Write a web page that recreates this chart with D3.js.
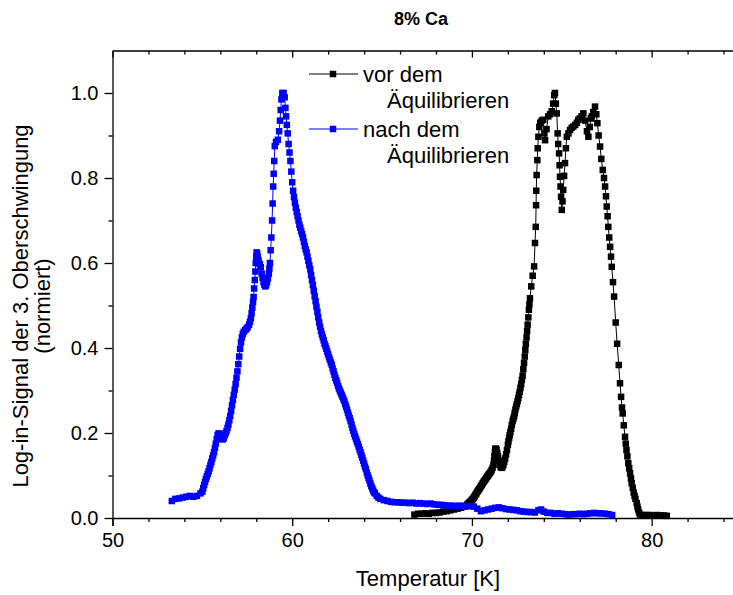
<!DOCTYPE html>
<html>
<head>
<meta charset="utf-8">
<script src="https://cdn.jsdelivr.net/npm/d3@7"></script>
<style>
  body { margin: 0; background: #fff; }
  svg { display: block; font-family: "Liberation Sans", Arial, sans-serif; }
</style>
</head>
<body>
<div id="canvas"></div>
<script>
"use strict"

/* Data */
// blue series: nach dem Aequilibrieren
let blueT = [53.3, 53.5, 53.7, 53.9, 54.1, 54.3, 54.5, 54.7, 54.9, 55.0, 55.05, 55.1, 55.15, 55.2, 55.25, 55.3, 55.35, 55.4, 55.45, 55.5, 55.55, 55.6, 55.65, 55.7, 55.75, 55.8, 55.85, 55.9, 55.95, 56.0, 56.05, 56.1, 56.15, 56.2, 56.25, 56.3, 56.35, 56.4, 56.45, 56.5, 56.55, 56.6, 56.65, 56.7, 56.75, 56.8, 56.85, 56.9, 56.95, 57.0, 57.05, 57.1, 57.15, 57.2, 57.25, 57.3, 57.38, 57.45, 57.52, 57.6, 57.65, 57.7, 57.74, 57.78, 57.82, 57.85, 57.88, 57.92, 57.95, 57.97, 58.0, 58.02, 58.05, 58.08, 58.12, 58.15, 58.2, 58.25, 58.3, 58.35, 58.4, 58.45, 58.5, 58.55, 58.6, 58.65, 58.7, 58.73, 58.76, 58.8, 58.84, 58.88, 58.91, 58.94, 58.97, 59.0, 59.03, 59.1, 59.2, 59.27, 59.32, 59.36, 59.4, 59.45, 59.52, 59.58, 59.62, 59.66, 59.7, 59.75, 59.8, 59.85, 59.9, 59.95, 60.0, 60.05, 60.1, 60.15, 60.2, 60.25, 60.3, 60.35, 60.4, 60.45, 60.5, 60.55, 60.6, 60.65, 60.7, 60.75, 60.8, 60.85, 60.9, 60.95, 61.0, 61.05, 61.1, 61.15, 61.2, 61.25, 61.3, 61.35, 61.4, 61.45, 61.5, 61.55, 61.6, 61.65, 61.7, 61.75, 61.8, 61.85, 61.9, 61.95, 62.0, 62.05, 62.1, 62.15, 62.2, 62.25, 62.3, 62.35, 62.4, 62.45, 62.5, 62.55, 62.6, 62.65, 62.7, 62.75, 62.8, 62.85, 62.9, 62.95, 63.0, 63.05, 63.1, 63.15, 63.2, 63.25, 63.3, 63.35, 63.4, 63.45, 63.5, 63.55, 63.6, 63.65, 63.7, 63.75, 63.8, 63.85, 63.9, 63.95, 64.0, 64.05, 64.1, 64.15, 64.2, 64.25, 64.3, 64.35, 64.4, 64.45, 64.5, 64.55, 64.6, 64.7, 64.8, 64.9, 65.1, 65.3, 65.5, 65.7, 65.9, 66.1, 66.3, 66.5, 66.7, 66.9, 67.1, 67.3, 67.5, 67.7, 67.9, 68.1, 68.3, 68.5, 68.7, 68.9, 69.1, 69.3, 69.5, 69.7, 69.9, 70.1, 70.3, 70.5, 70.7, 70.9, 71.1, 71.3, 71.5, 71.7, 71.9, 72.1, 72.3, 72.5, 72.7, 72.9, 73.1, 73.3, 73.5, 73.7, 73.85, 74.0, 74.2, 74.4, 74.6, 74.8, 75.0, 75.2, 75.4, 75.6, 75.8, 76.0, 76.2, 76.4, 76.6, 76.8, 77.0, 77.2, 77.4, 77.6, 77.8];
let blueV = [0.040, 0.045, 0.046, 0.048, 0.050, 0.052, 0.050, 0.052, 0.058, 0.062, 0.070, 0.078, 0.085, 0.092, 0.098, 0.104, 0.110, 0.117, 0.125, 0.132, 0.140, 0.147, 0.155, 0.165, 0.175, 0.186, 0.195, 0.199, 0.198, 0.193, 0.190, 0.186, 0.185, 0.189, 0.195, 0.200, 0.205, 0.212, 0.220, 0.230, 0.240, 0.252, 0.265, 0.278, 0.290, 0.302, 0.315, 0.330, 0.345, 0.362, 0.380, 0.398, 0.413, 0.425, 0.433, 0.438, 0.442, 0.445, 0.449, 0.455, 0.462, 0.470, 0.482, 0.495, 0.508, 0.520, 0.540, 0.560, 0.580, 0.600, 0.615, 0.625, 0.622, 0.615, 0.607, 0.600, 0.597, 0.590, 0.575, 0.565, 0.555, 0.549, 0.545, 0.548, 0.555, 0.564, 0.575, 0.587, 0.600, 0.630, 0.660, 0.700, 0.740, 0.780, 0.810, 0.840, 0.875, 0.885, 0.890, 0.910, 0.935, 0.960, 0.985, 1.000, 1.000, 0.990, 0.965, 0.945, 0.925, 0.905, 0.880, 0.860, 0.840, 0.815, 0.790, 0.770, 0.755, 0.742, 0.730, 0.720, 0.710, 0.700, 0.690, 0.683, 0.675, 0.668, 0.660, 0.650, 0.640, 0.632, 0.625, 0.615, 0.605, 0.595, 0.585, 0.572, 0.560, 0.548, 0.535, 0.522, 0.510, 0.497, 0.485, 0.472, 0.460, 0.450, 0.440, 0.432, 0.425, 0.418, 0.410, 0.404, 0.398, 0.391, 0.385, 0.378, 0.372, 0.366, 0.360, 0.352, 0.345, 0.337, 0.330, 0.324, 0.318, 0.311, 0.305, 0.300, 0.295, 0.290, 0.285, 0.280, 0.275, 0.268, 0.262, 0.255, 0.248, 0.241, 0.235, 0.228, 0.220, 0.212, 0.205, 0.198, 0.192, 0.186, 0.180, 0.174, 0.168, 0.161, 0.155, 0.148, 0.142, 0.135, 0.128, 0.121, 0.115, 0.107, 0.100, 0.094, 0.088, 0.081, 0.075, 0.070, 0.065, 0.061, 0.058, 0.052, 0.048, 0.045, 0.042, 0.040, 0.038, 0.037, 0.037, 0.036, 0.036, 0.035, 0.036, 0.034, 0.035, 0.034, 0.033, 0.034, 0.032, 0.031, 0.031, 0.030, 0.029, 0.029, 0.028, 0.029, 0.028, 0.028, 0.028, 0.027, 0.022, 0.016, 0.018, 0.020, 0.022, 0.024, 0.025, 0.023, 0.021, 0.020, 0.019, 0.018, 0.016, 0.015, 0.014, 0.014, 0.013, 0.018, 0.020, 0.015, 0.012, 0.012, 0.010, 0.011, 0.010, 0.009, 0.008, 0.009, 0.009, 0.010, 0.009, 0.010, 0.011, 0.012, 0.011, 0.011, 0.010, 0.009, 0.007];

// black series: vor dem Aequilibrieren
let blackT = [66.8, 67.0, 67.2, 67.4, 67.6, 67.8, 68.0, 68.2, 68.4, 68.6, 68.8, 69.0, 69.2, 69.4, 69.6, 69.7, 69.75, 69.8, 69.85, 69.9, 69.95, 70.0, 70.05, 70.1, 70.15, 70.2, 70.25, 70.3, 70.35, 70.4, 70.45, 70.5, 70.55, 70.6, 70.65, 70.7, 70.75, 70.8, 70.85, 70.9, 70.95, 71.0, 71.05, 71.1, 71.15, 71.2, 71.23, 71.25, 71.28, 71.3, 71.34, 71.37, 71.41, 71.45, 71.5, 71.55, 71.6, 71.65, 71.7, 71.75, 71.8, 71.85, 71.9, 71.95, 72.0, 72.03, 72.07, 72.1, 72.14, 72.18, 72.22, 72.27, 72.31, 72.35, 72.38, 72.42, 72.46, 72.5, 72.54, 72.58, 72.62, 72.66, 72.7, 72.74, 72.78, 72.82, 72.86, 72.9, 72.94, 72.97, 73.0, 73.04, 73.07, 73.1, 73.14, 73.17, 73.2, 73.23, 73.3, 73.38, 73.46, 73.51, 73.55, 73.57, 73.58, 73.6, 73.64, 73.66, 73.7, 73.75, 73.8, 73.88, 73.97, 74.03, 74.07, 74.15, 74.25, 74.35, 74.44, 74.52, 74.58, 74.62, 74.67, 74.72, 74.77, 74.8, 74.85, 74.88, 74.9, 74.93, 74.96, 75.0, 75.04, 75.08, 75.13, 75.18, 75.23, 75.28, 75.37, 75.46, 75.55, 75.64, 75.75, 75.84, 75.92, 76.0, 76.1, 76.2, 76.3, 76.4, 76.48, 76.56, 76.62, 76.67, 76.75, 76.85, 76.92, 76.98, 77.05, 77.13, 77.2, 77.28, 77.35, 77.41, 77.46, 77.5, 77.55, 77.59, 77.64, 77.69, 77.74, 77.78, 77.85, 77.91, 78.0, 78.08, 78.17, 78.24, 78.3, 78.35, 78.39, 78.45, 78.52, 78.56, 78.6, 78.65, 78.7, 78.75, 78.8, 78.85, 78.89, 78.95, 79.0, 79.05, 79.1, 79.17, 79.21, 79.25, 79.3, 79.35, 79.5, 79.7, 79.9, 80.1, 80.3, 80.5, 80.7, 80.84];
let blackV = [0.008, 0.010, 0.010, 0.011, 0.010, 0.012, 0.012, 0.013, 0.015, 0.016, 0.018, 0.020, 0.022, 0.024, 0.027, 0.030, 0.032, 0.034, 0.036, 0.038, 0.040, 0.043, 0.045, 0.048, 0.051, 0.055, 0.058, 0.062, 0.065, 0.068, 0.071, 0.075, 0.078, 0.082, 0.085, 0.088, 0.091, 0.094, 0.097, 0.100, 0.103, 0.106, 0.109, 0.113, 0.118, 0.125, 0.135, 0.145, 0.155, 0.163, 0.163, 0.160, 0.153, 0.145, 0.135, 0.125, 0.120, 0.118, 0.120, 0.125, 0.132, 0.140, 0.150, 0.160, 0.172, 0.180, 0.188, 0.195, 0.202, 0.210, 0.219, 0.228, 0.234, 0.240, 0.247, 0.255, 0.262, 0.268, 0.275, 0.282, 0.290, 0.297, 0.306, 0.315, 0.325, 0.335, 0.350, 0.365, 0.380, 0.395, 0.410, 0.425, 0.440, 0.455, 0.472, 0.490, 0.503, 0.517, 0.545, 0.570, 0.592, 0.647, 0.685, 0.736, 0.770, 0.807, 0.842, 0.870, 0.897, 0.920, 0.930, 0.935, 0.937, 0.905, 0.889, 0.915, 0.945, 0.950, 0.957, 0.975, 0.995, 1.000, 0.975, 0.952, 0.905, 0.880, 0.858, 0.830, 0.803, 0.780, 0.756, 0.725, 0.745, 0.772, 0.805, 0.835, 0.870, 0.897, 0.905, 0.913, 0.918, 0.921, 0.925, 0.930, 0.937, 0.940, 0.945, 0.952, 0.935, 0.910, 0.897, 0.920, 0.940, 0.945, 0.955, 0.968, 0.950, 0.929, 0.900, 0.874, 0.845, 0.819, 0.800, 0.780, 0.757, 0.733, 0.710, 0.685, 0.660, 0.638, 0.615, 0.591, 0.555, 0.521, 0.460, 0.410, 0.360, 0.317, 0.285, 0.260, 0.246, 0.218, 0.191, 0.175, 0.160, 0.145, 0.129, 0.117, 0.105, 0.093, 0.082, 0.071, 0.060, 0.052, 0.045, 0.035, 0.027, 0.020, 0.013, 0.008, 0.007, 0.007, 0.007, 0.006, 0.007, 0.006, 0.006, 0.005];

let xMajorTicks = [50, 60, 70, 80];
let yMajorTicks = [0.0, 0.2, 0.4, 0.6, 0.8, 1.0];
let seriesNames = ["vor dem", "nach dem"];
let seriesSub = "Äquilibrieren";
let titleText = "8% Ca";
let xLabel = "Temperatur [K]";
let yLabelLines = ["Log-in-Signal der 3. Oberschwingung", "(normiert)"];

/* drawing config */
let svgWidth = 733;
let svgHeight = 595;
let colors = ["#000000", "#0000ff"];

let svg = d3.select("#canvas")
    .append("svg")
    .attr("width", svgWidth)
    .attr("height", svgHeight);

svg.append("rect")
    .attr("width", svgWidth)
    .attr("height", svgHeight)
    .attr("fill", "#ffffff");

// the frame runs past the right edge of the picture (x = 85)
let xScale = d3.scaleLinear()
    .domain([50, 85])
    .range([112.5, 741.5]);

let yScale = d3.scaleLinear()
    .domain([0, 1.1])
    .range([518, 50.5]);

let xMinor = d3.range(50, 86, 2).filter(function (d) { return d % 10 !== 0; });
let yMinor = d3.range(0.1, 1.1, 0.2);

/* Axes */
let tickFont = "20px";
let labelFont = "22px";

// bottom
svg.append("g")
    .attr("transform", "translate(0," + yScale(0) + ")")
    .call(d3.axisBottom(xScale).tickValues(xMajorTicks).tickSize(8).tickPadding(7).tickFormat(d3.format("d")));
svg.append("g")
    .attr("transform", "translate(0," + yScale(0) + ")")
    .call(d3.axisBottom(xScale).tickValues(xMinor).tickSize(4).tickFormat(""))
    .select(".domain").remove();

// top (inward ticks)
svg.append("g")
    .attr("transform", "translate(0," + yScale(1.1) + ")")
    .call(d3.axisBottom(xScale).tickValues(xMajorTicks).tickSize(7).tickSizeOuter(0).tickFormat(""));
svg.append("g")
    .attr("transform", "translate(0," + yScale(1.1) + ")")
    .call(d3.axisBottom(xScale).tickValues(xMinor).tickSize(4).tickFormat(""))
    .select(".domain").remove();

// left
svg.append("g")
    .attr("transform", "translate(" + xScale(50) + ",0)")
    .call(d3.axisLeft(yScale).tickValues(yMajorTicks).tickSize(8).tickPadding(6).tickSizeOuter(0).tickFormat(d3.format(".1f")));
svg.append("g")
    .attr("transform", "translate(" + xScale(50) + ",0)")
    .call(d3.axisLeft(yScale).tickValues(yMinor).tickSize(4).tickFormat(""))
    .select(".domain").remove();

svg.selectAll(".tick text")
    .style("font-size", tickFont)
    .style("font-family", "'Liberation Sans', Arial, sans-serif")
    .attr("fill", "#000");
svg.selectAll(".domain, .tick line")
    .attr("stroke", "#000")
    .attr("stroke-width", 1.3);

/* Series */
let series = [
    { T: blackT, V: blackV, color: colors[0] },
    { T: blueT, V: blueV, color: colors[1] }
];

let lineGen = d3.line()
    .x(function (d) { return xScale(d[0]); })
    .y(function (d) { return yScale(d[1]); });

let markerSize = 6.5;

series.forEach(function (s) {
    let pts = s.T.map(function (t, i) { return [t, s.V[i]]; });
    svg.append("path")
        .datum(pts)
        .attr("fill", "none")
        .attr("stroke", s.color)
        .attr("stroke-width", 1)
        .attr("d", lineGen);
    svg.append("g")
        .selectAll("rect")
        .data(pts)
        .join("rect")
        .attr("x", function (d) { return xScale(d[0]) - markerSize / 2; })
        .attr("y", function (d) { return yScale(d[1]) - markerSize / 2; })
        .attr("width", markerSize)
        .attr("height", markerSize)
        .attr("fill", s.color);
});

/* Title and axis labels */
svg.append("text")
    .attr("x", 421)
    .attr("y", 25)
    .attr("text-anchor", "middle")
    .style("font-size", "18px")
    .style("font-weight", "bold")
    .text(titleText);

svg.append("text")
    .attr("x", 428)
    .attr("y", 586)
    .attr("text-anchor", "middle")
    .style("font-size", labelFont)
    .text(xLabel);

yLabelLines.forEach(function (line, i) {
    svg.append("text")
        .attr("transform", "translate(" + (28 + i * 22) + ",306) rotate(-90)")
        .attr("text-anchor", "middle")
        .style("font-size", labelFont)
        .text(line);
});

/* Legend */
let legendTop = [74, 129];
series.forEach(function (s, i) {
    let ly = legendTop[i];
    svg.append("line")
        .attr("x1", 309).attr("x2", 358)
        .attr("y1", ly).attr("y2", ly)
        .attr("stroke", s.color)
        .attr("stroke-width", 1);
    svg.append("rect")
        .attr("x", 333 - markerSize / 2)
        .attr("y", ly - markerSize / 2)
        .attr("width", markerSize)
        .attr("height", markerSize)
        .attr("fill", s.color);
    svg.append("text")
        .attr("x", 363)
        .attr("y", ly + 8)
        .style("font-size", labelFont)
        .text(seriesNames[i]);
    svg.append("text")
        .attr("x", 387)
        .attr("y", ly + 34)
        .style("font-size", labelFont)
        .text(seriesSub);
});
</script>
</body>
</html>
